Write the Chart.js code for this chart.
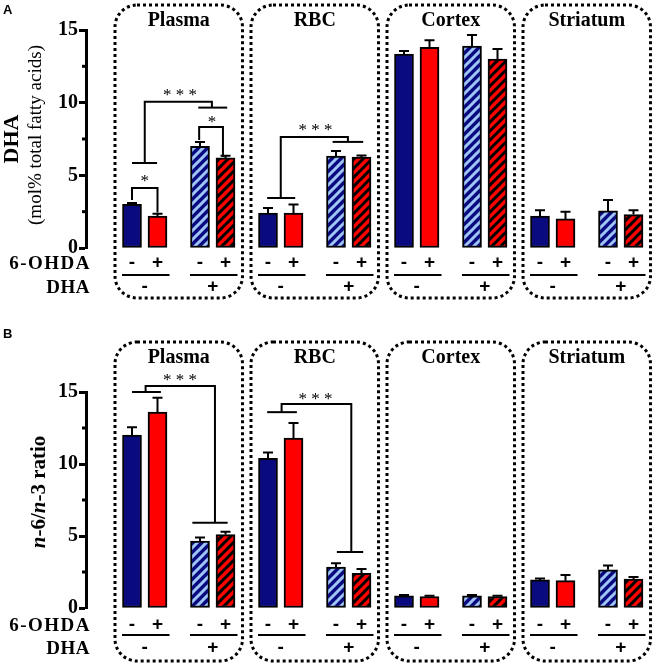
<!DOCTYPE html>
<html>
<head>
<meta charset="utf-8">
<script src="https://cdn.jsdelivr.net/npm/chart.js@4.4.1/dist/chart.umd.min.js"></script>
<style>
  html, body { margin: 0; padding: 0; background: #fff; }
  .panel { position: absolute; left: 0; width: 658px; }
</style>
</head>
<body>
<div class="panel" style="top:0"><canvas id="chart-a" width="658" height="326"></canvas></div>
<div class="panel" style="top:326px"><canvas id="chart-b" width="658" height="338"></canvas></div>
<script>
const tissues = ['Plasma', 'RBC', 'Cortex', 'Striatum'];
const ohdaSigns = ['-', '+', '-', '+'];
const dhaSigns = ['-', '+'];
const yTicks = [0, 5, 10, 15];

// A: DHA, mol% total fatty acids (order: Plasma, RBC, Cortex, Striatum)
const dhaCtrl = [3.0, 2.4, 13.35, 2.2];
const dhaCtrlErr = [0.1, 0.35, 0.2, 0.4];
const dhaOhda = [2.2, 2.4, 13.8, 2.0];
const dhaOhdaErr = [0.15, 0.6, 0.5, 0.5];
const dhaDiet = [7.0, 6.33, 13.9, 2.55];
const dhaDietErr = [0.3, 0.35, 0.75, 0.75];
const dhaDietOhda = [6.2, 6.25, 13.0, 2.3];
const dhaDietOhdaErr = [0.15, 0.12, 0.7, 0.3];

// B: n-6/n-3 ratio
const ratioCtrl = [12.0, 10.4, 0.85, 1.95];
const ratioCtrlErr = [0.55, 0.4, 0.05, 0.1];
const ratioOhda = [13.6, 11.8, 0.8, 1.9];
const ratioOhdaErr = [1.0, 1.05, 0.05, 0.4];
const ratioDiet = [4.65, 2.85, 0.85, 2.65];
const ratioDietErr = [0.25, 0.25, 0.05, 0.3];
const ratioDietOhda = [5.1, 2.4, 0.8, 2.0];
const ratioDietOhdaErr = [0.2, 0.3, 0.05, 0.15];

const SERIF = '"Liberation Serif", "Times New Roman", serif';
const SANS = '"Liberation Sans", Arial, sans-serif';
const NAVY = '#0a0a80';
const RED = '#ff0000';

// slot layout on the linear x axis (bar centres)
const slotInGroup = [0, 3, 8, 11];
const groupStep = 16;

function hatch(bg, fg) {
  const s = 9;
  const c = document.createElement('canvas');
  c.width = c.height = s;
  const g = c.getContext('2d');
  g.fillStyle = bg;
  g.fillRect(0, 0, s, s);
  g.strokeStyle = fg;
  g.lineWidth = 3;
  g.beginPath();
  g.moveTo(0, s); g.lineTo(s, 0);
  g.moveTo(-s / 2, s / 2); g.lineTo(s / 2, -s / 2);
  g.moveTo(s / 2, s * 1.5); g.lineTo(s * 1.5, s / 2);
  g.stroke();
  return g.createPattern(c, 'repeat');
}
const fills = [NAVY, RED, hatch(NAVY, '#a0c6f6'), hatch(RED, '#000000')];

function toPoints(vals, k) {
  return vals.map((v, i) => ({ x: i * groupStep + slotInGroup[k], y: v }));
}

// significance brackets, in (slot, value) coordinates
const bracketsA = [
  { paths: [[[0, 3.3], [0, 4.13], [3, 4.13], [3, 2.45]]], star: '*', at: [1.5, 4.8] },
  { paths: [[[7.9, 7.43], [7.9, 8.33], [10.7, 8.33], [10.7, 6.26]]], star: '*', at: [9.4, 8.88] },
  { paths: [[[0, 5.85], [2.95, 5.85]], [[1.5, 5.85], [1.5, 10.07], [9.4, 10.07], [9.4, 9.66]], [[7.8, 9.66], [11.2, 9.66]]],
    star: '* * *', at: [5.65, 10.7] },
  { paths: [[[15.9, 3.44], [19.2, 3.44]], [[17.5, 3.44], [17.5, 7.64], [25.4, 7.64], [25.4, 7.3]], [[23.6, 7.3], [27.2, 7.3]]],
    star: '* * *', at: [21.6, 8.36] }
];
const bracketsB = [
  { paths: [[[0, 15.0], [3.4, 15.0]], [[1.6, 15.0], [1.6, 15.42], [9.76, 15.42], [9.76, 5.92]], [[7.1, 5.92], [11.25, 5.92]]],
    star: '* * *', at: [5.65, 16.04] },
  { paths: [[[15.9, 13.6], [19.4, 13.6]], [[17.6, 13.6], [17.6, 14.17], [25.8, 14.17], [25.8, 3.89]], [[24.1, 3.89], [27.2, 3.89]]],
    star: '* * *', at: [21.6, 14.7] }
];

const decorations = {
  id: 'decorations',
  afterDatasetsDraw(chart, args, o) {
    const ctx = chart.ctx;
    const xs = chart.scales.x, ys = chart.scales.y;
    const px = s => xs.getPixelForValue(s);
    const py = v => ys.getPixelForValue(v);
    ctx.save();
    ctx.strokeStyle = '#000';
    ctx.fillStyle = '#000';

    // error bars (upper only)
    ctx.lineWidth = 2;
    chart.data.datasets.forEach((ds, di) => {
      chart.getDatasetMeta(di).data.forEach((bar, i) => {
        const top = py(ds.data[i].y + ds.errors[i]);
        ctx.beginPath();
        ctx.moveTo(bar.x, bar.y);
        ctx.lineTo(bar.x, top);
        ctx.moveTo(bar.x - 5, top);
        ctx.lineTo(bar.x + 5, top);
        ctx.stroke();
      });
    });

    // minor ticks
    ctx.lineWidth = 3;
    [2.5, 7.5, 12.5].forEach(v => {
      ctx.beginPath();
      ctx.moveTo(xs.left - 4, py(v));
      ctx.lineTo(xs.left, py(v));
      ctx.stroke();
    });

    // brackets
    ctx.lineWidth = 2;
    o.brackets.forEach(b => {
      b.paths.forEach(path => {
        ctx.beginPath();
        path.forEach(([s, v], j) => j ? ctx.lineTo(px(s), py(v)) : ctx.moveTo(px(s), py(v)));
        ctx.stroke();
      });
      ctx.font = '17px ' + SERIF;
      ctx.textAlign = 'center';
      ctx.textBaseline = 'alphabetic';
      ctx.fillText(b.star, px(b.at[0]), py(b.at[1]) + 8);
    });

    // dotted boxes, titles, treatment labels
    tissues.forEach((t, i) => {
      const base = i * groupStep;
      const l = px(base) - 17, r = px(base + 11) + 17;
      ctx.lineWidth = 3;
      ctx.setLineDash([3, 3]);
      ctx.beginPath();
      ctx.roundRect(l, o.boxTop, r - l, o.boxBottom - o.boxTop, 22);
      ctx.stroke();
      ctx.setLineDash([]);

      ctx.font = 'bold 20px ' + SERIF;
      ctx.textAlign = 'center';
      ctx.textBaseline = 'alphabetic';
      ctx.fillText(t, (l + r) / 2, o.titleY);

      ctx.font = 'bold 19px ' + SANS;
      ctx.textBaseline = 'middle';
      slotInGroup.forEach((s, k) => ctx.fillText(ohdaSigns[k], px(base + s), o.signY));
      ctx.lineWidth = 2;
      [[0, 3], [8, 11]].forEach(([a, c], k) => {
        ctx.beginPath();
        ctx.moveTo(px(base + a) - 10, o.lineY);
        ctx.lineTo(px(base + c) + 12, o.lineY);
        ctx.stroke();
        ctx.fillText(dhaSigns[k], (px(base + a) + px(base + c)) / 2, o.dhaY);
      });
    });

    ctx.font = 'bold 19px ' + SERIF;
    ctx.textAlign = 'right';
    ctx.textBaseline = 'middle';
    ctx.letterSpacing = '1.5px';
    ctx.fillText('6-OHDA', 91, o.signY + 1);
    ctx.letterSpacing = '0.5px';
    ctx.fillText('DHA', 90, o.dhaY + 1);
    ctx.letterSpacing = '0px';

    // panel letter
    ctx.font = 'bold 13px ' + SANS;
    ctx.textAlign = 'left';
    ctx.textBaseline = 'alphabetic';
    ctx.fillText(o.letter, 3, o.letterY);

    // y-axis title
    ctx.translate(0, (ys.top + ys.bottom) / 2);
    ctx.rotate(-Math.PI / 2);
    o.yTitle(ctx);
    ctx.restore();
  }
};

function titleA(ctx) {
  ctx.textAlign = 'center';
  ctx.textBaseline = 'middle';
  ctx.font = 'bold 22px ' + SERIF;
  ctx.fillText('DHA', 0, 12);
  ctx.font = '19px ' + SERIF;
  ctx.fillText('(mol% total fatty acids)', 4, 36);
}

function titleB(ctx) {
  const parts = [['n', 'italic bold'], ['-6/', 'bold'], ['n', 'italic bold'], ['-3 ratio', 'bold']];
  ctx.textBaseline = 'middle';
  ctx.textAlign = 'left';
  let w = 0;
  parts.forEach(([s, f]) => { ctx.font = f + ' 21px ' + SERIF; w += ctx.measureText(s).width; });
  let x = -w / 2 + 8;
  parts.forEach(([s, f]) => {
    ctx.font = f + ' 21px ' + SERIF;
    ctx.fillText(s, x, 40);
    x += ctx.measureText(s).width;
  });
}

function makeChart(id, series, errs, opts) {
  return new Chart(document.getElementById(id), {
    type: 'bar',
    data: {
      datasets: series.map((vals, k) => ({
        data: toPoints(vals, k),
        errors: errs[k],
        backgroundColor: fills[k],
        borderColor: '#000',
        borderWidth: 2,
        borderSkipped: false,
        barThickness: 19,
        grouped: false
      }))
    },
    options: {
      responsive: false,
      animation: false,
      layout: { padding: { left: 0, right: 8, top: opts.top, bottom: opts.bottom } },
      plugins: { legend: { display: false }, tooltip: { enabled: false }, decorations: opts },
      scales: {
        x: { type: 'linear', display: false, offset: false, min: -46 / 8.5, max: -46 / 8.5 + 564 / 8.5 },
        y: {
          min: 0, max: 15,
          afterFit(scale) { scale.width = 86; },
          afterBuildTicks(scale) { scale.ticks = yTicks.map(v => ({ value: v })); },
          border: { display: true, color: '#000', width: 3 },
          grid: { drawOnChartArea: false, drawTicks: true, tickLength: 7, tickWidth: 3, tickColor: '#000' },
          ticks: { color: '#000', padding: 1, font: { family: SERIF, size: 20, weight: 'bold' } }
        }
      }
    },
    plugins: [decorations]
  });
}

makeChart('chart-a',
  [dhaCtrl, dhaOhda, dhaDiet, dhaDietOhda],
  [dhaCtrlErr, dhaOhdaErr, dhaDietErr, dhaDietOhdaErr],
  { top: 30, bottom: 78, brackets: bracketsA, boxTop: 5, boxBottom: 298, titleY: 26,
    signY: 263, lineY: 275, dhaY: 287, letter: 'A', letterY: 14, yTitle: titleA });

makeChart('chart-b',
  [ratioCtrl, ratioOhda, ratioDiet, ratioDietOhda],
  [ratioCtrlErr, ratioOhdaErr, ratioDietErr, ratioDietOhdaErr],
  { top: 66, bottom: 56, brackets: bracketsB, boxTop: 16, boxBottom: 335, titleY: 37,
    signY: 299, lineY: 309, dhaY: 322, letter: 'B', letterY: 12, yTitle: titleB });
</script>
</body>
</html>
